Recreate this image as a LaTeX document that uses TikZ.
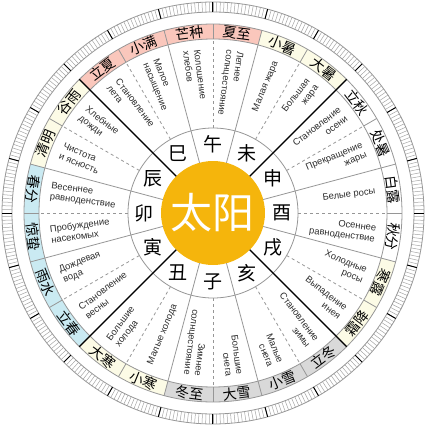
\documentclass[tikz,border=0pt]{standalone}
\usepackage{fontspec}
\setmainfont{Liberation Sans}
\newfontfamily\cjk{Noto Sans CJK SC}
\usetikzlibrary{calc}

\definecolor{sunorange}{RGB}{245,181,12}
\definecolor{summerpink}{RGB}{250,199,188}
\definecolor{midcream}{RGB}{252,251,230}
\definecolor{springblue}{RGB}{202,234,242}
\definecolor{wintergray}{RGB}{217,217,217}
\definecolor{linegray}{RGB}{150,150,150}
\definecolor{tickgray}{RGB}{165,165,165}
\definecolor{rustext}{RGB}{45,45,45}

\tikzset{
    ruslabel/.style={font=\fontsize{9.4}{10.8}\selectfont, text=rustext, inner sep=0pt},
    termlabel/.style={font=\cjk\fontsize{14}{14}\selectfont, inner sep=0pt},
    branchlabel/.style={font=\cjk\fontsize{19}{19}\selectfont, inner sep=0pt},
    thinline/.style={linegray, line width=0.8pt}
}

\begin{document}
\begin{tikzpicture}[x=1pt,y=1pt]
\useasboundingbox (-213,-213) rectangle (213,213);

% sectors of the solar terms
\foreach \a/\col/\zh/\zrot/\ru/\rrot/\anc/\al [count=\i] in {
    82.5/summerpink/夏至/-7.5/{Летнее\\солнцестояние}/-97.5/west/left,
    97.5/summerpink/芒种/7.5/{Колошение\\хлебов}/-82.5/west/left,
    112.5/summerpink/小满/22.5/{Малое\\насыщение}/-67.5/west/left,
    127.5/summerpink/立夏/37.5/{Становление\\лета}/-52.5/west/left,
    142.5/midcream/谷雨/52.5/{Хлебные\\дожди}/-37.5/west/left,
    157.5/midcream/清明/67.5/{Чистота\\и ясность}/-22.5/west/left,
    172.5/springblue/春分/-97.5/{Весеннее\\равноденствие}/-7.5/west/left,
    -172.5/springblue/惊蛰/-82.5/{Пробуждение\\насекомых}/7.5/west/left,
    -157.5/springblue/雨水/-67.5/{Дождевая\\вода}/22.5/west/left,
    -142.5/springblue/立春/-52.5/{Становление\\весны}/37.5/west/left,
    -127.5/midcream/大寒/-37.5/{Большие\\холода}/52.5/west/left,
    -112.5/midcream/小寒/-22.5/{Малые холода}/67.5/west/left,
    -97.5/wintergray/冬至/-7.5/{Зимнее\\солнцестояние}/-97.5/east/right,
    -82.5/wintergray/大雪/7.5/{Большие\\снега}/-82.5/east/right,
    -67.5/wintergray/小雪/22.5/{Малые\\снега}/-67.5/east/right,
    -52.5/wintergray/立冬/37.5/{Становление\\зимы}/-52.5/east/right,
    -37.5/midcream/霜降/52.5/{Выпадение\\инея}/-37.5/east/right,
    -22.5/midcream/寒露/-112.5/{Холодные\\росы}/-22.5/east/right,
    -7.5/white/秋分/-97.5/{Осеннее\\равноденствие}/-7.5/east/right,
    7.5/white/白露/-82.5/{Белые росы}/7.5/east/right,
    22.5/white/处暑/-67.5/{Прекращение\\жары}/22.5/east/right,
    37.5/white/立秋/-52.5/{Становление\\осени}/37.5/east/right,
    52.5/midcream/大暑/-37.5/{Большая\\жара}/52.5/east/right,
    67.5/midcream/小暑/-22.5/{Малая жара}/67.5/east/right}
{
    \fill[\col] (\a-7.5:174) arc[start angle=\a-7.5, end angle=\a+7.5, radius=174]
        -- (\a+7.5:189) arc[start angle=\a+7.5, end angle=\a-7.5, radius=189] -- cycle;
    \node[termlabel, rotate=\zrot] (term\i) at (\a:181.5) {\zh};
    \node[ruslabel, rotate=\rrot, anchor=\anc, align=\al] (rus\i) at (\a:164) {\ru};
}

% sun
\fill[sunorange] (0,0) circle (52);
\node[font=\cjk\fontsize{42}{42}\selectfont, text=white, inner sep=0pt] (sun) at (0,0) {太阳};

% rings
\draw[thinline] (0,0) circle (85);
\draw[thinline] (0,0) circle (174);
\draw[thinline] (0,0) circle (189);
\draw[thinline] (0,0) circle (201);
\draw[thinline] (0,0) circle (211);

% dividers
\foreach \d in {15,45,...,345}
    \draw[thinline] (\d:52) -- (\d:189);
\foreach \d in {0,30,...,330} {
    \draw[thinline, dashed, dash pattern=on 3pt off 3pt] (\d:85) -- (\d:174);
    \draw[thinline] (\d:174) -- (\d:189);
}
\foreach \d in {45,135,225,315}
    \draw[black, line width=1.3pt] (\d:52) -- (\d:189);

% ticks of the outer scale
\foreach \d in {0,...,359}
    \draw[tickgray, line width=0.5pt] (\d:201) -- (\d:211);
\foreach \d in {0,15,...,345}
    \draw[black, line width=1pt] (\d:201) -- (\d:211);

% earthly branches
\foreach \b/\a [count=\i] in {午/90,未/60,申/30,酉/0,戌/-30,亥/-60,子/-90,丑/-120,寅/-150,卯/180,辰/150,巳/120}
    \node[branchlabel] (branch\i) at (\a:69) {\b};
\end{tikzpicture}
\end{document}
